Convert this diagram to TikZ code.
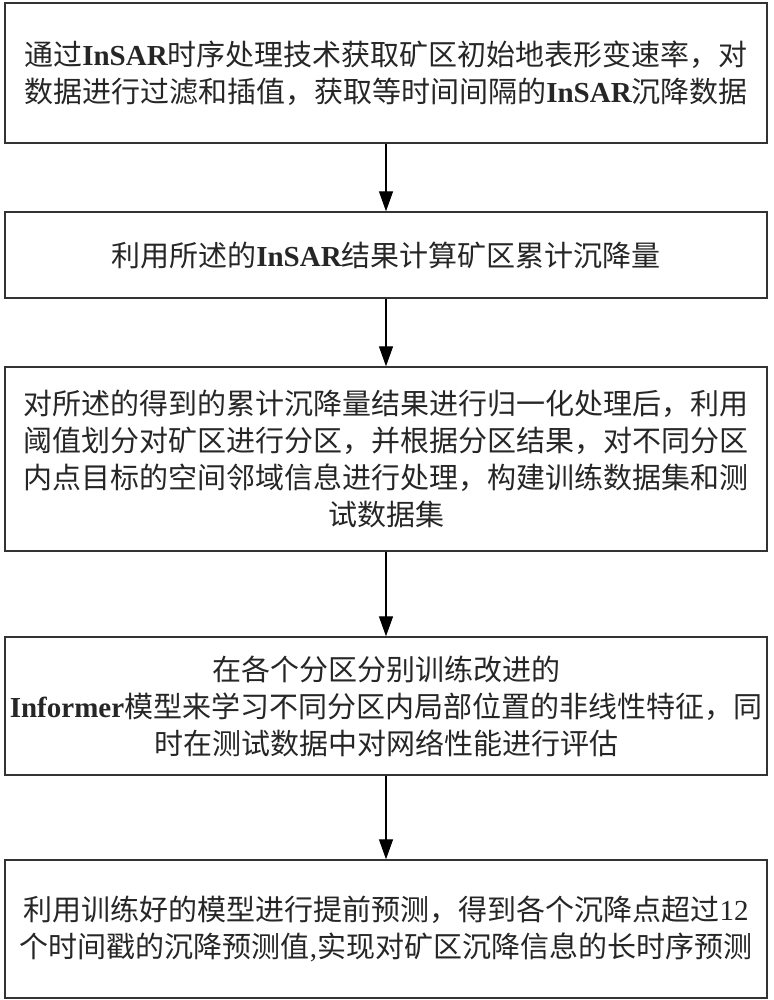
\documentclass[tikz,border=0pt]{standalone}
\usepackage{fontspec}
\newfontfamily\cjk{Noto Sans CJK SC}
\newfontfamily\lat{Liberation Serif}
\usetikzlibrary{arrows.meta}
\tikzset{
  box/.style={draw=black!80, line width=1.4pt, minimum width=762pt, align=center, inner sep=0pt,
    font=\cjk\fontsize{29}{37}\selectfont, text=black!85},
  arr/.style={draw=black, line width=1.3pt, -{Triangle[length=20pt,width=14pt]}}
}
\begin{document}
\begin{tikzpicture}
\useasboundingbox (0pt,0pt) rectangle (773pt,-1000pt);
\node[box, minimum height=140pt] (b1) at (386pt,-73pt)
  {通过{\lat\bfseries InSAR}时序处理技术获取矿区初始地表形变速率，对\\数据进行过滤和插值，获取等时间间隔的{\lat\bfseries InSAR}沉降数据};
\node[box, minimum height=86pt] (b2) at (386pt,-255pt)
  {利用所述的{\lat\bfseries InSAR}结果计算矿区累计沉降量};
\node[box, minimum height=184pt] (b3) at (386pt,-459pt)
  {对所述的得到的累计沉降量结果进行归一化处理后，利用\\阈值划分对矿区进行分区，并根据分区结果，对不同分区\\内点目标的空间邻域信息进行处理，构建训练数据集和测\\试数据集};
\node[box, minimum height=138pt] (b4) at (386pt,-706pt)
  {在各个分区分别训练改进的\\{\lat\bfseries Informer}模型来学习不同分区内局部位置的非线性特征，同\\时在测试数据中对网络性能进行评估};
\node[box, minimum height=138pt] (b5) at (386pt,-929pt)
  {利用训练好的模型进行提前预测，得到各个沉降点超过{\lat 12}\\个时间戳的沉降预测值{\lat ,}实现对矿区沉降信息的长时序预测};
\draw[arr] (b1) -- (b2);
\draw[arr] (b2) -- (b3);
\draw[arr] (b3) -- (b4);
\draw[arr] (b4) -- (b5);
\end{tikzpicture}
\end{document}
